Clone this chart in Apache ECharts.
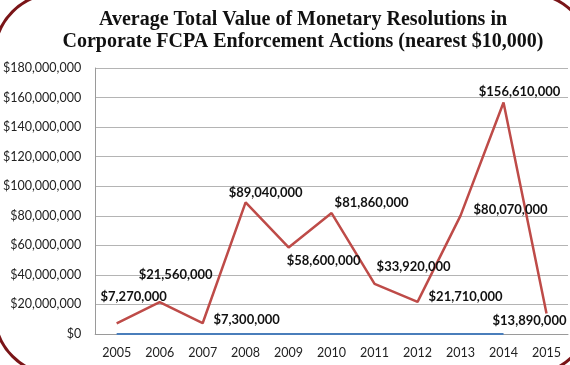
<!DOCTYPE html>
<html>
<head>
<meta charset="utf-8">
<script src="https://cdn.jsdelivr.net/npm/echarts@6/dist/echarts.min.js"></script>
<style>html,body{margin:0;padding:0;background:#fff}#c{width:570px;height:365px}</style>
</head>
<body>
<div id="c"></div>
<script>
const titleLines = ['Average Total Value of Monetary Resolutions in', 'Corporate FCPA Enforcement Actions (nearest $10,000)'];
const years = ['2005','2006','2007','2008','2009','2010','2011','2012','2013','2014','2015'];
const avgValues = [7270000, 21560000, 7300000, 89040000, 58600000, 81860000, 33920000, 21710000, 80070000, 156610000, 13890000];
const baselineValues = [0,0,0,0,0,0,0,0,0,0,null];
const yTickMax = 180000000;
const yTickStep = 20000000;

// label placement (center offset from point, px)
const labelOffsets = [[17,-26],[16,-27],[44,-3],[20,-10],[35,13],[40,-10],[39,-17],[48,-5],[50,-6],[16,-11],[-17,7]];

const fmt = v => '$' + Math.round(v).toLocaleString('en-US');

const chart = echarts.init(document.getElementById('c'));
chart.setOption({
  animation: false,
  backgroundColor: '#fff',
  title: {
    text: titleLines.join('\n'),
    left: 298, top: 4, textAlign: 'center',
    textStyle: {fontFamily: 'Liberation Serif', fontWeight: 'bold', fontSize: 20, lineHeight: 22, color: '#111'}
  },
  grid: {left: 94, right: 2, top: 68, bottom: 31, containLabel: false},
  xAxis: {
    type: 'category', data: years, boundaryGap: true,
    axisLine: {show: true, lineStyle: {color: '#9a9a9a', width: 1}},
    axisTick: {show: false},
    axisLabel: {fontFamily: 'Lato', fontSize: 12.5, color: '#222', margin: 12}
  },
  yAxis: {
    type: 'value', min: 0, max: yTickMax, interval: yTickStep,
    axisLine: {show: true, lineStyle: {color: '#9a9a9a', width: 1}},
    axisTick: {show: false},
    splitLine: {lineStyle: {color: '#b4b4b4', width: 1}},
    axisLabel: {fontFamily: 'Lato', fontSize: 12.5, color: '#222', margin: 14, formatter: v => fmt(v)}
  },
  series: [
    {
      type: 'line', data: baselineValues, symbol: 'none', silent: true,
      lineStyle: {color: '#4a7ebb', width: 2}, z: 1
    },
    {
      type: 'line',
      data: avgValues.map((v, i) => ({
        value: v,
        label: {offset: labelOffsets[i]}
      })),
      symbol: 'circle', symbolSize: 0.1, showSymbol: true,
      itemStyle: {color: '#be4b48'},
      lineStyle: {color: '#be4b48', width: 2.5},
      label: {
        show: true, position: 'inside',
        formatter: p => fmt(p.value),
        fontFamily: 'Lato', fontWeight: 'bold', fontSize: 13, color: '#111'
      },
      z: 3
    }
  ],
  graphic: [{
    type: 'rect', silent: true,
    shape: {x: -5, y: -6, width: 595, height: 380, r: 60},
    style: {fill: 'none', stroke: '#7a1518', lineWidth: 3},
    z: 100
  }]
});
</script>
</body>
</html>
